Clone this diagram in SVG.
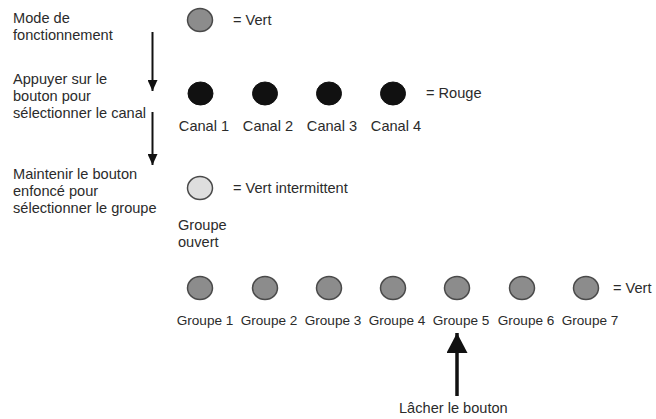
<svg xmlns="http://www.w3.org/2000/svg" width="656" height="419" viewBox="0 0 656 419">
<style>
text{font-family:"Liberation Sans",Arial,sans-serif;font-size:14.6px;fill:#2b2b2b}
.s{font-size:13.6px}
.g{fill:#8c8c8c;stroke:#4a4a4a;stroke-width:1.5}
.b{fill:#111;stroke:#111;stroke-width:1}
.l{fill:#dedede;stroke:#4a4a4a;stroke-width:1.5}
.c{text-anchor:middle}
.ln{stroke:#111;stroke-width:2;fill:none}
</style>
<defs>
<marker id="ah" viewBox="0 0 11 10" refX="11" refY="5" markerWidth="11" markerHeight="10" markerUnits="userSpaceOnUse" orient="auto"><path d="M0,0L11,5L0,10z" fill="#111"/></marker>
<marker id="ahb" viewBox="0 0 20 21" refX="20" refY="10.5" markerWidth="20" markerHeight="21" markerUnits="userSpaceOnUse" orient="auto"><path d="M0,0L20,10.5L0,21z" fill="#111"/></marker>
</defs>
<rect width="656" height="419" fill="#fff"/>
<g id="labels-left">
<text x="13" y="23">Mode de</text>
<text x="13" y="40">fonctionnement</text>
<text x="13" y="84">Appuyer sur le</text>
<text x="13" y="101">bouton pour</text>
<text x="13" y="118">sélectionner le canal</text>
<text x="13" y="179">Maintenir le bouton</text>
<text x="13" y="196">enfoncé pour</text>
<text x="13" y="213">sélectionner le groupe</text>
</g>
<g id="connectors">
<line class="ln" x1="152.5" y1="32" x2="152.5" y2="91" marker-end="url(#ah)"/>
<line class="ln" x1="152.5" y1="112" x2="152.5" y2="165" marker-end="url(#ah)"/>
<line class="ln" style="stroke-width:3.5" x1="457" y1="396" x2="457" y2="333" marker-end="url(#ahb)"/>
</g>
<g id="mode">
<ellipse class="g" cx="200" cy="20" rx="12.5" ry="11.5"/>
<text x="233" y="25">= Vert</text>
</g>
<g id="canal1"><ellipse class="b" cx="200.5" cy="93.5" rx="12.5" ry="11.5"/><text class="c" x="204" y="131">Canal 1</text></g>
<g id="canal2"><ellipse class="b" cx="265" cy="93.5" rx="12.5" ry="11.5"/><text class="c" x="268" y="131">Canal 2</text></g>
<g id="canal3"><ellipse class="b" cx="329" cy="93.5" rx="12.5" ry="11.5"/><text class="c" x="332" y="131">Canal 3</text></g>
<g id="canal4"><ellipse class="b" cx="393" cy="93.5" rx="12.5" ry="11.5"/><text class="c" x="396" y="131">Canal 4</text></g>
<g id="rouge"><text x="426" y="98">= Rouge</text></g>
<g id="groupe-ouvert">
<ellipse class="l" cx="200" cy="188" rx="12.5" ry="11.5"/>
<text x="233" y="193">= Vert intermittent</text>
<text x="178" y="230">Groupe</text>
<text x="178" y="247">ouvert</text>
</g>
<g id="groupe1"><ellipse class="g" cx="200" cy="288" rx="12.5" ry="11.5"/><text class="c s" x="205" y="325">Groupe 1</text></g>
<g id="groupe2"><ellipse class="g" cx="265" cy="288" rx="12.5" ry="11.5"/><text class="c s" x="269" y="325">Groupe 2</text></g>
<g id="groupe3"><ellipse class="g" cx="329" cy="288" rx="12.5" ry="11.5"/><text class="c s" x="333" y="325">Groupe 3</text></g>
<g id="groupe4"><ellipse class="g" cx="393" cy="288" rx="12.5" ry="11.5"/><text class="c s" x="397" y="325">Groupe 4</text></g>
<g id="groupe5"><ellipse class="g" cx="457" cy="288" rx="12.5" ry="11.5"/><text class="c s" x="461" y="325">Groupe 5</text></g>
<g id="groupe6"><ellipse class="g" cx="522" cy="288" rx="12.5" ry="11.5"/><text class="c s" x="526" y="325">Groupe 6</text></g>
<g id="groupe7"><ellipse class="g" cx="586" cy="288" rx="12.5" ry="11.5"/><text class="c s" x="590" y="325">Groupe 7</text></g>
<g id="vert-groupes"><text x="613" y="293">= Vert</text></g>
<g id="lacher"><text x="399" y="413">Lâcher le bouton</text></g>
</svg>
